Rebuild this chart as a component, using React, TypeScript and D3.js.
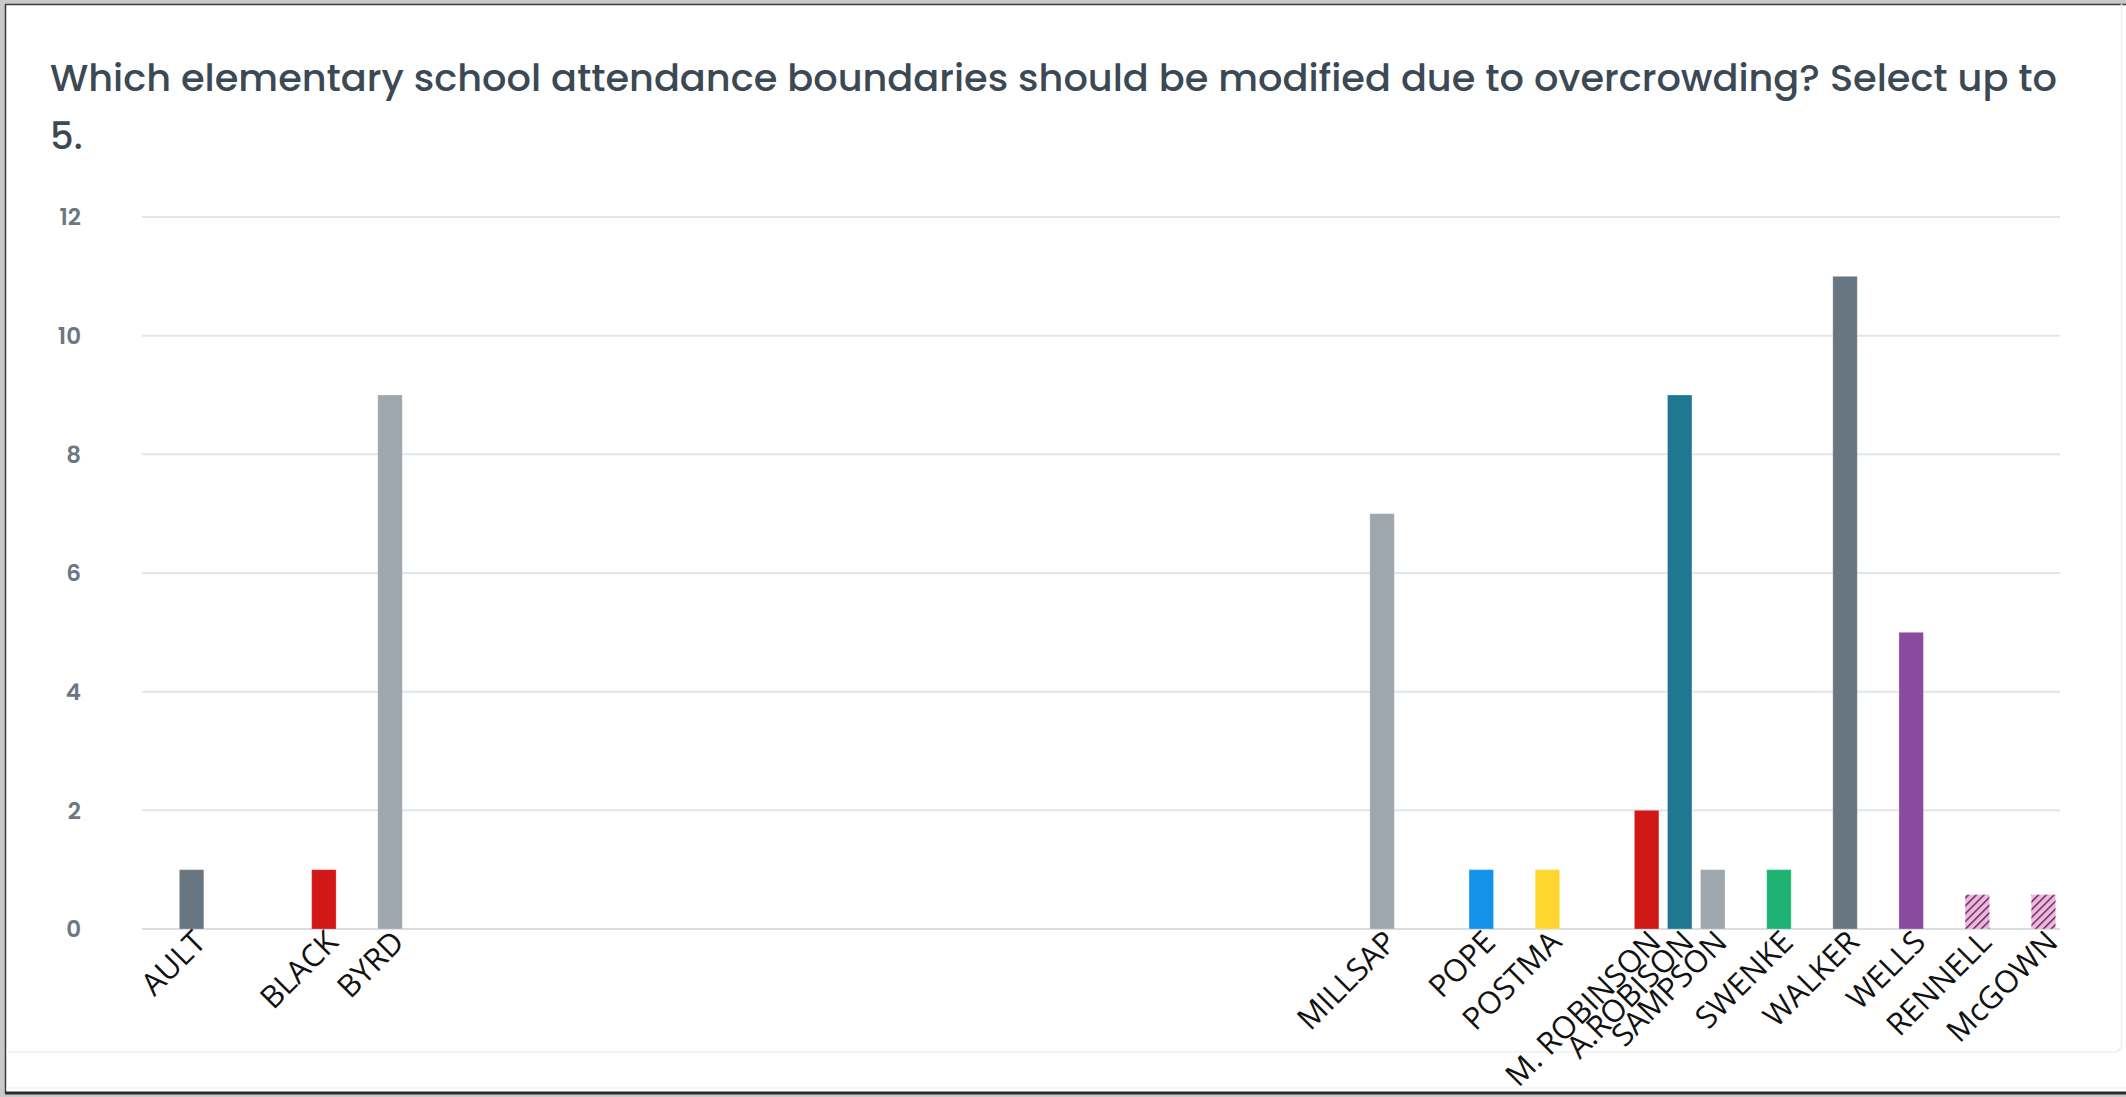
import React from 'react';
import * as d3 from 'd3';

const W = 2126;
const H = 1097;

const titleLine1 = 'Which elementary school attendance boundaries should be modified due to overcrowding? Select up to';
const titleLine2 = '5.';

// the survey lists 58 schools; only those with responses carry a label
const slotCount = 58;
const schools = ['AULT', 'BLACK', 'BYRD', 'MILLSAP', 'POPE', 'POSTMA', 'M. ROBINSON', 'A.ROBISON', 'SAMPSON', 'SWENKE', 'WALKER', 'WELLS', 'RENNELL', 'McGOWN'];
const schoolSlot = [1, 5, 7, 37, 40, 42, 45, 46, 47, 49, 51, 53, 55, 57];
const votes = [1, 1, 9, 7, 1, 1, 2, 9, 1, 1, 11, 5, 0.58, 0.58];
const barColors = ['#687681', '#d21717', '#9ea6ae', '#9ea6ae', '#1592ea', '#ffd62e', '#d21717', '#1f7891', '#9ea6ae', '#1eb273', '#687681', '#8a4a9e', 'url(#hatch)', 'url(#hatch)'];
const yTicks = [0, 2, 4, 6, 8, 10, 12];

const plot = { left: 142, right: 2060, top: 217, bottom: 929 };

export default function App() {
  const x = d3
    .scaleBand<number>()
    .domain(d3.range(slotCount))
    .range([plot.left, plot.right])
    .paddingInner(0.26)
    .paddingOuter(0.13);
  const y = d3.scaleLinear().domain([0, 12]).range([plot.bottom, plot.top]);

  return (
    <svg
      width={W}
      height={H}
      style={{ position: 'absolute', left: 0, top: 0, display: 'block' }}
      xmlns="http://www.w3.org/2000/svg"
    >
      <defs>
        <pattern id="hatch" patternUnits="userSpaceOnUse" width={5.5} height={5.5} patternTransform="rotate(45)">
          <rect width={5.5} height={5.5} fill="#f8b0e6" />
          <line x1={0.5} y1={0} x2={0.5} y2={5.5} stroke="#3f3740" strokeWidth={1.8} />
        </pattern>
      </defs>
      {/* screenshot frame */}
      <rect x={0} y={0} width={W} height={H} fill="#c9c9c9" />
      <rect x={5} y={4} width={W - 5} height={1089} fill="#ffffff" />
      <line x1={5} y1={4.5} x2={W} y2={4.5} stroke="#3a3a3a" strokeWidth={1.5} />
      <line x1={5.5} y1={4} x2={5.5} y2={1093} stroke="#3a3a3a" strokeWidth={1.5} />
      <line x1={5} y1={1093} x2={W} y2={1093} stroke="#2a2a2a" strokeWidth={3} />
      <path d="M 2121.5 4 L 2121.5 1044 Q 2121.5 1052 2113 1052 L 6 1052" fill="none" stroke="#eeeeee" strokeWidth={1.5} />
      <line x1={6} y1={1088} x2={W} y2={1088} stroke="#f2f2f2" strokeWidth={1.5} />

      {/* title */}
      <text
        x={50}
        y={91}
        fontFamily="Poppins, Inter, sans-serif"
        fontSize={37}
        fontWeight={500}
        fill="#3b4955"
        textLength={2007}
        lengthAdjust="spacingAndGlyphs"
      >
        {titleLine1}
      </text>
      <text x={50} y={149} fontFamily="Poppins, Inter, sans-serif" fontSize={37} fontWeight={500} fill="#3b4955">
        {titleLine2}
      </text>

      {/* grid + y ticks */}
      {yTicks.map((t) => (
        <g key={t}>
          <line x1={plot.left} x2={plot.right} y1={y(t)} y2={y(t)} stroke={t === 0 ? '#d9dde2' : '#e3e6e9'} strokeWidth={2} />
          <text
            x={81}
            y={y(t)}
            dy="0.36em"
            textAnchor="end"
            fontFamily="Poppins, Inter, sans-serif"
            fontSize={23}
            fontWeight={600}
            fill="#6c7783"
          >
            {t}
          </text>
        </g>
      ))}

      {/* bars */}
      {schools.map((s, i) => {
        const x0 = x(schoolSlot[i]) as number;
        return (
          <rect
            key={s}
            x={x0}
            y={y(votes[i])}
            width={x.bandwidth()}
            height={y(0) - y(votes[i])}
            fill={barColors[i]}
            stroke="#ffffff"
            strokeOpacity={0.25}
            strokeWidth={1}
          />
        );
      })}

      {/* category labels */}
      {schools.map((s, i) => {
        const cx = (x(schoolSlot[i]) as number) + x.bandwidth() / 2 + 16;
        const cy = 944;
        return (
          <text
            key={s}
            x={cx}
            y={cy}
            transform={`rotate(-45 ${cx} ${cy})`}
            textAnchor="end"
            fontFamily="'Open Sans', sans-serif"
            fontSize={31}
            fontWeight={500}
            fill="#111111"
          >
            {s}
          </text>
        );
      })}
    </svg>
  );
}
